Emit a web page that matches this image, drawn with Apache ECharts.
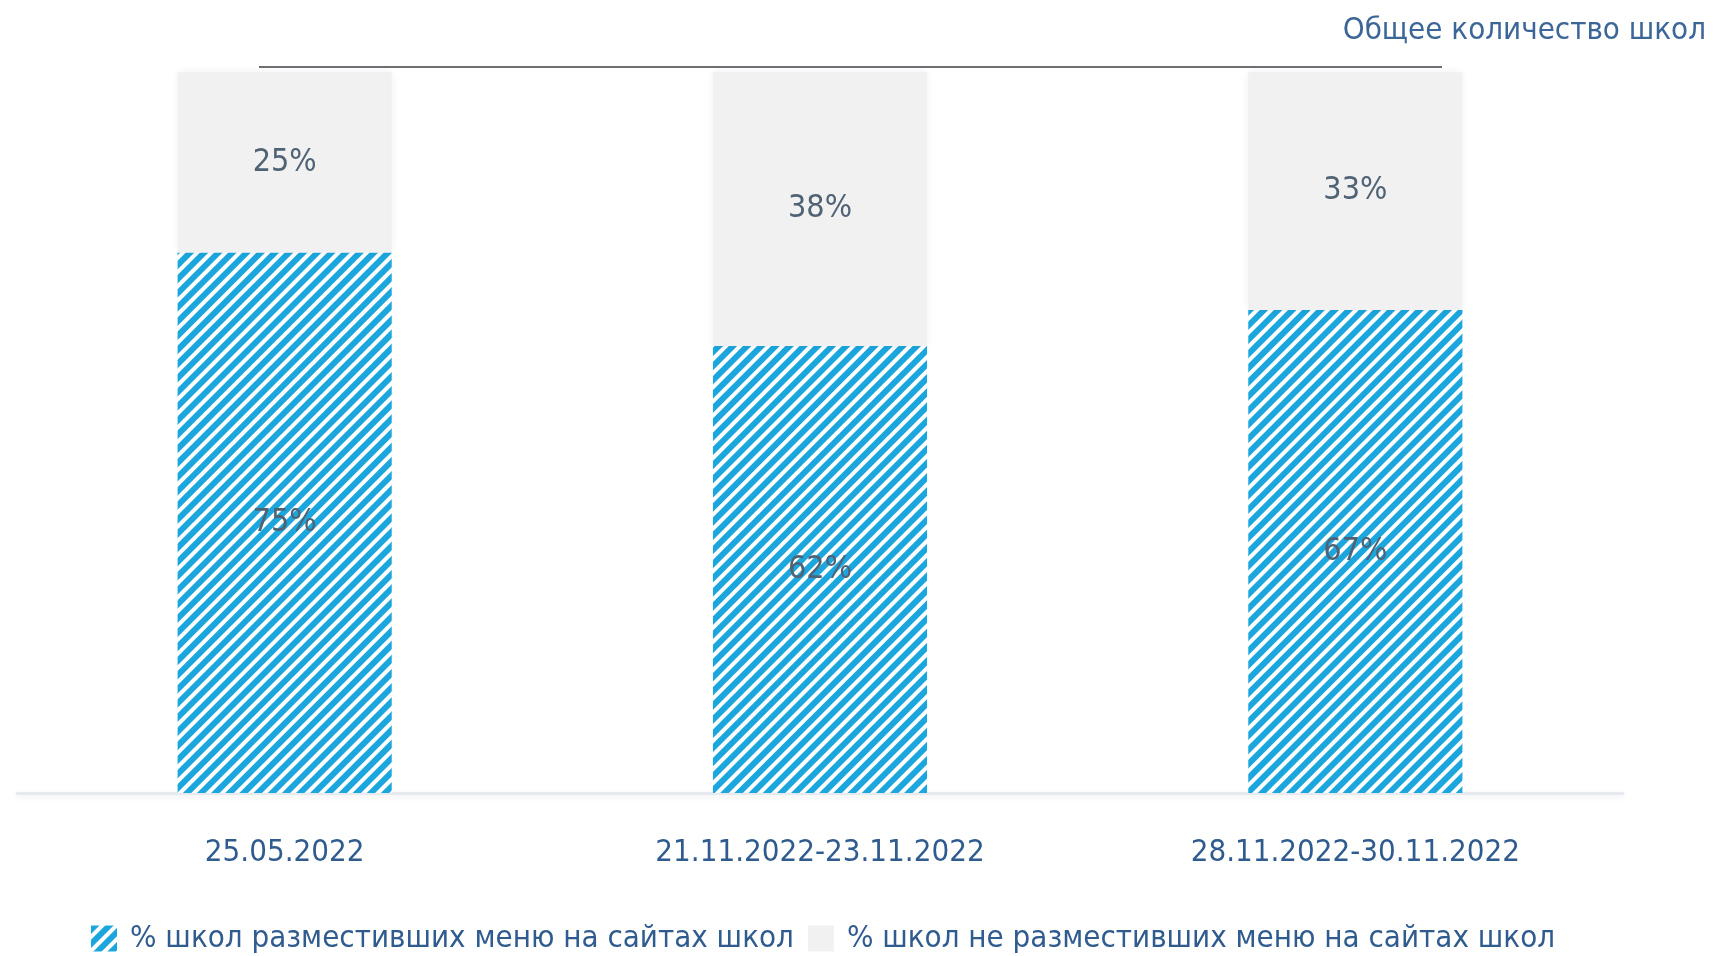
<!DOCTYPE html>
<html>
<head>
<meta charset="utf-8">
<script src="https://cdn.jsdelivr.net/npm/echarts@6/dist/echarts.min.js"></script>
<style>
  html, body { margin: 0; padding: 0; background: #fff; }
  #chart { width: 1733px; height: 956px; }
</style>
</head>
<body>
<div id="chart"></div>
<script>
// данные
var categories = ["25.05.2022", "21.11.2022-23.11.2022", "28.11.2022-30.11.2022"];
var posted = [75, 62, 67];      // % школ разместивших меню
var notPosted = [25, 38, 33];   // % школ не разместивших меню
var seriesNames = ["% школ разместивших меню на сайтах школ", "% школ не разместивших меню на сайтах школ"];
var totalName = "Общее количество школ";

var FONT = '"DejaVu Sans Condensed", "Liberation Sans Narrow", sans-serif';
var blue = "#1ba6dd";
var textBlue = "#2f5b8e";
var labelGray = "#506375";

var chart = echarts.init(document.getElementById("chart"));
chart.setOption({
  backgroundColor: "#fff",
  animation: false,
  title: {
    text: totalName,
    right: 22,
    top: 10,
    textStyle: { fontFamily: FONT, fontSize: 31, fontWeight: "normal", color: "#3b6697" }
  },
  legend: {
    data: seriesNames,
    icon: "rect",
    left: 86,
    top: 918,
    itemWidth: 26,
    itemHeight: 26,
    itemGap: 14,
    textStyle: { fontFamily: FONT, fontSize: 31, color: textBlue, padding: [0, 0, 0, 8] }
  },
  grid: { left: 17, right: 110, top: 65, bottom: 163 },
  xAxis: {
    type: "category",
    data: categories,
    axisTick: { show: false },
    axisLine: {
      lineStyle: { color: "#e6eaee", width: 3, shadowColor: "rgba(0,0,0,0.08)", shadowBlur: 6, shadowOffsetY: 2 }
    },
    axisLabel: { interval: 0, fontFamily: FONT, fontSize: 31, color: textBlue, margin: 44 }
  },
  yAxis: {
    type: "value",
    min: 0,
    max: 101,
    show: false,
    splitLine: { show: false }
  },
  series: [
    {
      name: seriesNames[0],
      type: "bar",
      stack: "all",
      barWidth: "40%",
      data: posted,
      itemStyle: {
        color: "#ffffff",
        decal: {
          symbol: "rect",
          color: blue,
          dashArrayX: [1, 0],
          dashArrayY: [6, 4],
          rotation: -Math.PI / 4
        }
      },
      label: {
        show: true,
        position: "inside",
        formatter: "{c}%",
        fontFamily: FONT,
        fontSize: 32,
        color: labelGray
      }
    },
    {
      name: seriesNames[1],
      type: "bar",
      stack: "all",
      barWidth: "40%",
      data: notPosted,
      itemStyle: {
        color: "#f1f1f1",
        shadowColor: "rgba(0,0,0,0.06)",
        shadowBlur: 8
      },
      label: {
        show: true,
        position: "inside",
        formatter: "{c}%",
        fontFamily: FONT,
        fontSize: 32,
        color: labelGray
      },
      markLine: {
        silent: true,
        symbol: "none",
        label: { show: false },
        lineStyle: { color: "#6d6f73", width: 2, type: "solid" },
        data: [[{ x: 259, yAxis: 100.7 }, { x: 1442, yAxis: 100.7 }]]
      }
    }
  ]
});
</script>
</body>
</html>
